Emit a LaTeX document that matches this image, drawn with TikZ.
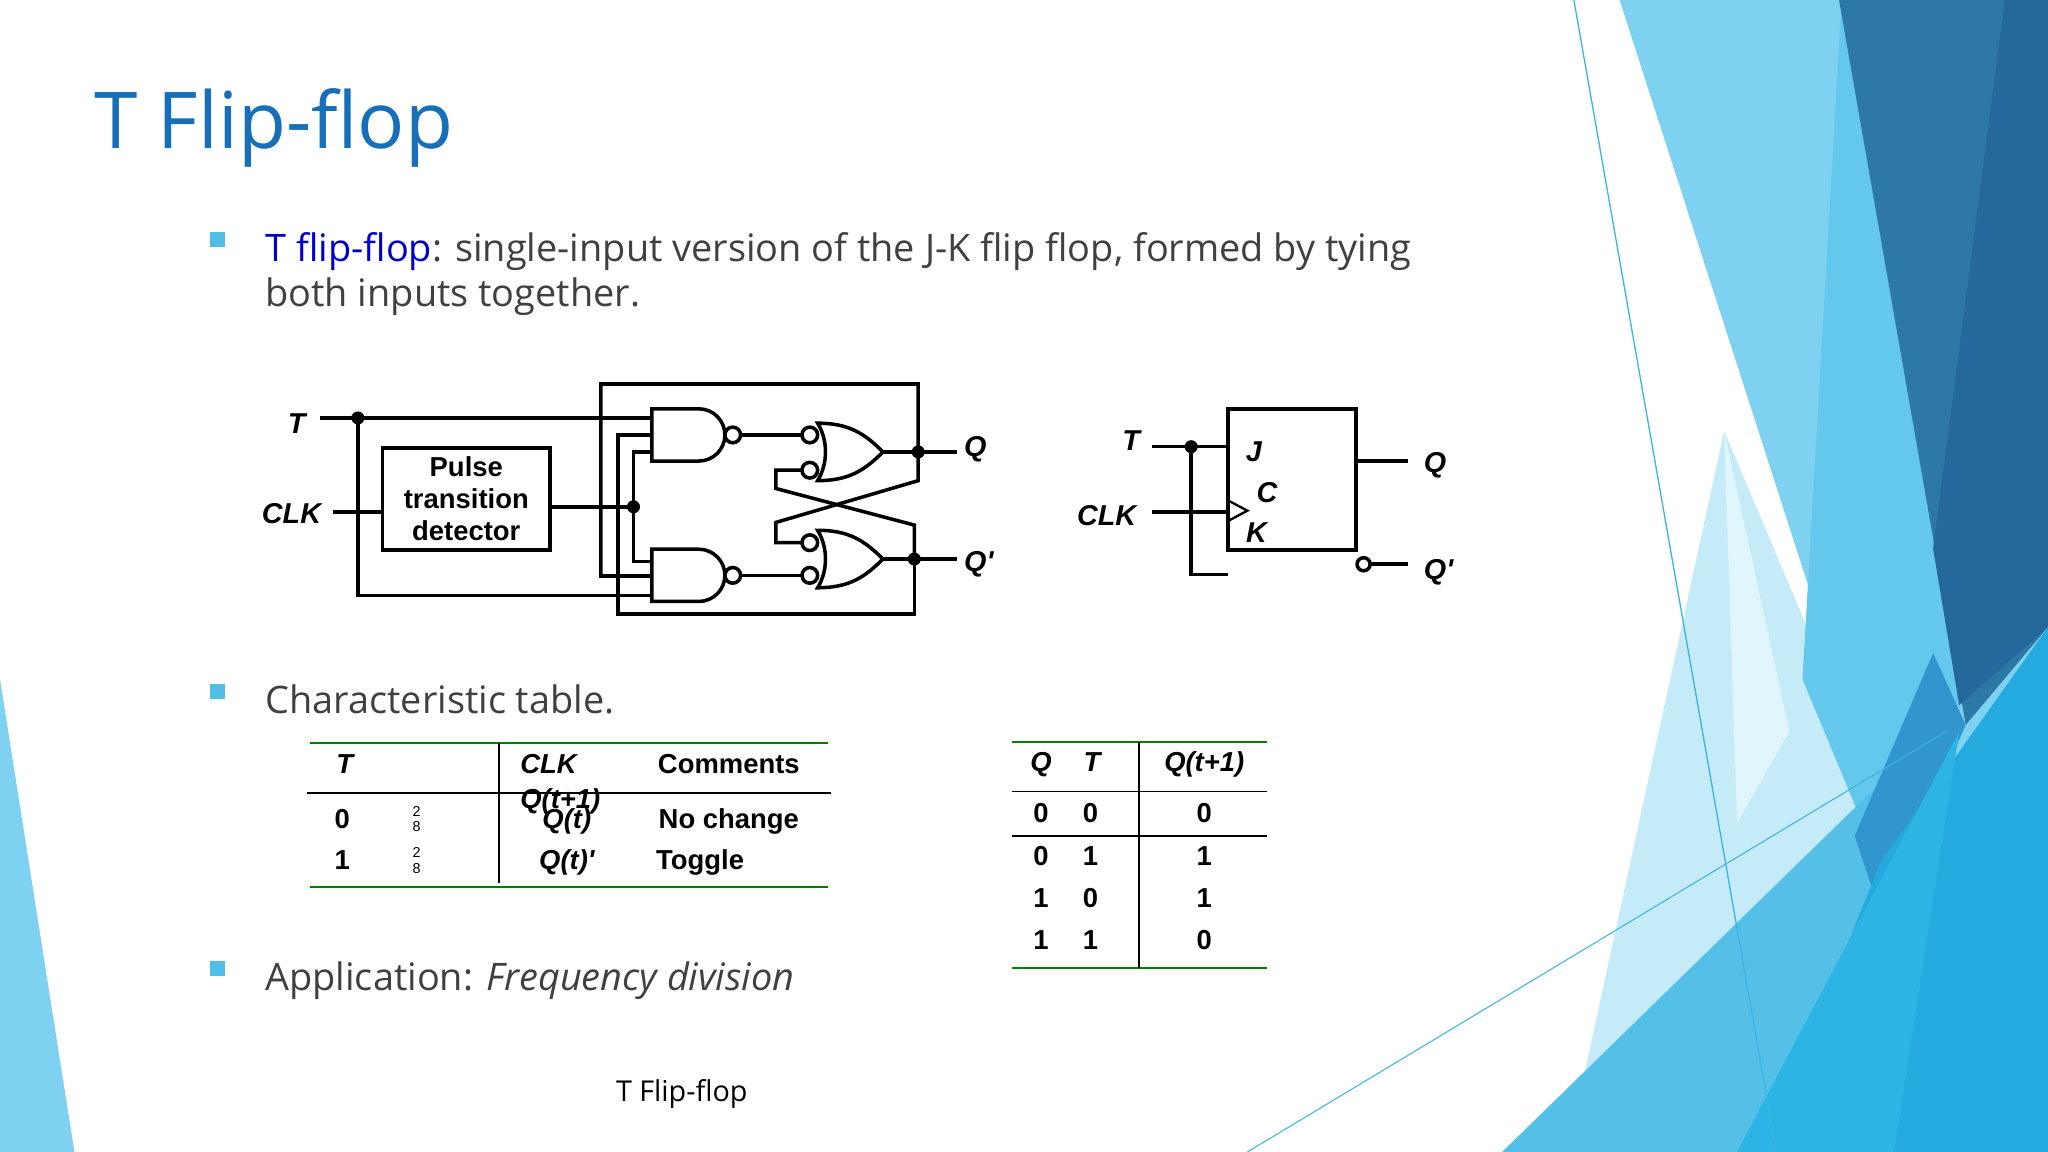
\documentclass[tikz,border=0pt]{standalone}
\usepackage{fontspec}
\setmainfont{Open Sans}
\newfontfamily\arial{Liberation Sans}
\begin{document}
\begin{tikzpicture}[x=1pt,y=-1pt,
  w/.style={line width=2.7pt,line join=miter},
  lab/.style={font=\arial\bfseries\itshape\fontsize{22}{24}\selectfont,inner sep=0pt},
  tb/.style={font=\arial\bfseries\fontsize{21}{23}\selectfont,inner sep=0pt,anchor=base},
  tbi/.style={font=\arial\bfseries\itshape\fontsize{21}{23}\selectfont,inner sep=0pt,anchor=base},
  sm/.style={font=\arial\fontsize{11}{11}\selectfont,inner sep=0pt},
  body/.style={font=\fontsize{29}{35}\selectfont,text=black!75,inner sep=0pt,anchor=base west},
  dot/.style={circle,fill=black,inner sep=0pt,minimum size=10pt},
  gl/.style={line width=2pt,draw=green!50!black},
  bl/.style={line width=1.2pt}]
\useasboundingbox (0,0) rectangle (1568,882);
% background decoration
\fill[color={rgb,255:red,126;green,209;blue,240}] (1240,0) -- (1568,0) -- (1568,882) -- (1340,882) -- (1430,590) -- cycle;
\fill[color={rgb,255:red,197;green,235;blue,248}] (1320,330) -- (1430,590) -- (1340,882) -- (1200,882) -- cycle;
\fill[color={rgb,255:red,225;green,245;blue,252}] (1320,330) -- (1370,560) -- (1330,630) -- cycle;
\fill[color={rgb,255:red,100;green,200;blue,236}] (1410,0) -- (1480,40) -- (1500,560) -- (1430,640) -- (1380,520) -- cycle;
\fill[color={rgb,255:red,46;green,120;blue,168}] (1408,0) -- (1568,0) -- (1568,480) -- (1505,555) -- cycle;
\fill[color={rgb,255:red,36;green,104;blue,156}] (1535,0) -- (1568,0) -- (1568,480) -- (1500,540) -- (1480,420) -- cycle;
\fill[color={rgb,255:red,84;green,192;blue,232}] (1150,882) -- (1480,560) -- (1500,760) -- (1460,882) -- cycle;
\fill[color={rgb,255:red,48;green,150;blue,205}] (1480,500) -- (1505,555) -- (1440,700) -- (1420,640) -- cycle;
\fill[color={rgb,255:red,36;green,170;blue,222}] (1568,480) -- (1568,882) -- (1350,882) -- (1440,660) -- cycle;
\fill[color={rgb,255:red,43;green,180;blue,228}] (1500,560) -- (1450,882) -- (1330,882) -- cycle;
\draw[color={rgb,255:red,60;green,180;blue,225},line width=1pt] (1205,0) -- (1360,882);
\draw[color={rgb,255:red,60;green,180;blue,225},line width=0.8pt] (955,882) -- (1490,560);
\fill[color={rgb,255:red,126;green,209;blue,240}] (0,520) -- (57,882) -- (0,882) -- cycle;
% title and text
\node[anchor=base west,inner sep=0pt,font=\fontsize{60}{70}\selectfont,text={rgb,255:red,23;green,110;blue,185}] (title) at (72,114) {T Flip-flop};
\fill[color={rgb,255:red,80;green,190;blue,232}] (161,178) rectangle (172,189);
\node[body] (b1) at (203,200) {\textcolor{blue!80!black}{T flip-flop}: single-input version of the J-K flip flop, formed by tying};
\node[body] (b1b) at (203,235) {both inputs together.};
\fill[color={rgb,255:red,80;green,190;blue,232}] (161,524) rectangle (172,535);
\node[body] (b2) at (203,546) {Characteristic table.};
\fill[color={rgb,255:red,80;green,190;blue,232}] (161,736) rectangle (172,747);
\node[body] (b3) at (203,758) {Application: \textit{Frequency division}};
\node[anchor=base,inner sep=0pt,font=\fontsize{22}{24}\selectfont] (foot) at (522,843) {T Flip-flop};
% ===== circuit =====
\node[lab,anchor=east] (T) at (234,324) {T};
\node[lab,anchor=east] (CLK) at (246,393) {CLK};
\node[draw,w,minimum width=128pt,minimum height=78pt,font=\arial\bfseries\fontsize{21}{24.5}\selectfont,align=center,inner sep=0pt] (ptd) at (357,382) {Pulse\\transition\\detector};
% AND gates
\draw[w] (499,313) -- (535,313) arc[start angle=-90,end angle=90,radius=20] -- (499,353) -- cycle;
\draw[w] (561,333) circle[radius=6];
\draw[w] (499,420.5) -- (535,420.5) arc[start angle=-90,end angle=90,radius=20] -- (499,460.5) -- cycle;
\draw[w] (561,440.5) circle[radius=6];
% OR gates
\draw[w] (626,324) .. controls (650,324) and (662,332) .. (676,346) .. controls (662,360) and (650,368) .. (626,368) .. controls (634,355) and (634,337) .. (626,324) -- cycle;
\draw[w] (620,333) circle[radius=6] (620,360) circle[radius=6];
\draw[w] (626,406) .. controls (650,406) and (662,414) .. (676,428) .. controls (662,442) and (650,450) .. (626,450) .. controls (634,437) and (634,419) .. (626,406) -- cycle;
\draw[w] (620,415.5) circle[radius=6] (620,440.5) circle[radius=6];
% wires
\coordinate (tdot) at (274,320);
\draw[w] (245,320) -- (499,320);
\draw[w] (tdot) -- (274,456) -- (499,456);
\draw[w] (255,392) -- (ptd.west|-0,392);
\draw[w] (ptd.east|-0,388) -- (485,388);
\draw[w] (499,346) -- (485,346) -- (485,430) -- (499,430);
\draw[w] (499,333) -- (473,333) -- (473,470) -- (700,470) -- (700,428);
\draw[w] (499,441) -- (460,441) -- (460,294) -- (703,294) -- (703,368) -- (594,400) -- (594,415.5) -- (614,415.5);
\draw[w] (567,333) -- (614,333);
\draw[w] (567,440.5) -- (614,440.5);
\draw[w] (614,360) -- (594,360) -- (594,374) -- (700,402) -- (700,428);
\draw[w] (676,346) -- (733,346);
\draw[w] (676,428) -- (733,428);
\node[dot] (d1) at (tdot) {};
\node[dot] (d2) at (485,388) {};
\node[dot] (d3) at (703,346) {};
\node[dot] (d4) at (700,428) {};
\node[lab,anchor=west] (Q) at (738,344) {Q};
\node[lab,anchor=west] (Qp) at (738,432) {Q'};
% ===== JK symbol =====
\node[draw,w,minimum width=98pt,minimum height=108pt,inner sep=0pt] (jk) at (989,367) {};
\node[lab,anchor=east] (T2) at (873,337) {T};
\node[lab,anchor=east] (CLK2) at (870,395) {CLK};
\draw[w] (882,342) -- (jk.west|-0,342);
\draw[w] (912,342) -- (912,440) -- (940,440);
\node[dot] (d5) at (912,342) {};
\draw[w] (882,392) -- (jk.west|-0,392);
\draw[line width=1.8pt] (940,383) -- (955,391) -- (940,399);
\node[lab] (J) at (960,346) {J};
\node[lab] (C) at (970,377) {C};
\node[lab] (K) at (962,408) {K};
\draw[w] (jk.east|-0,353) -- (1078,353);
\draw[w] (1044,432) circle[radius=5];
\draw[w] (1049,432) -- (1078,432);
\node[lab,anchor=west] (Q2) at (1090,356) {Q};
\node[lab,anchor=west] (Qp2) at (1090,438) {Q'};
% ===== left table =====
\draw[gl] (237,569) -- (634,569);
\draw[bl] (235,607) -- (636,607);
\draw[gl] (237,679) -- (634,679);
\draw[bl] (382,569) -- (382,676);
\node[tbi] (h1) at (264,592) {T};
\node[tbi] (h2) at (420,592) {CLK};
\node[tb] (h3) at (558,592) {Comments};
\node[tbi] (h4) at (429,619) {Q(t+1)};
\node[tb] (r11) at (262,634) {0};
\node[sm] (r12a) at (319,621) {2};
\node[sm] (r12b) at (319,633) {8};
\node[tbi] (r13) at (434,634) {Q(t)};
\node[tb] (r14) at (558,634) {No change};
\node[tb] (r21) at (262,666) {1};
\node[sm] (r22a) at (319,653) {2};
\node[sm] (r22b) at (319,665) {8};
\node[tbi] (r23) at (434,666) {Q(t)'};
\node[tb] (r24) at (536,666) {Toggle};
% ===== right table =====
\draw[gl] (775,568) -- (970,568);
\draw[bl] (775,606) -- (970,606);
\draw[bl] (775,640) -- (970,640);
\draw[gl] (775,741) -- (970,741);
\draw[bl] (872,568) -- (872,741);
\node[tbi] (q1) at (797,591) {Q};
\node[tbi] (q2) at (836,591) {T};
\node[tbi] (q3) at (922,591) {Q(t+1)};
\foreach \y/\a/\b/\c [count=\i] in {630/0/0/0,663/0/1/1,695/1/0/1,727/1/1/0}{
  \node[tb] (ra\i) at (797,\y) {\a};
  \node[tb] (rb\i) at (835,\y) {\b};
  \node[tb] (rc\i) at (922,\y) {\c};
}
\end{tikzpicture}
\end{document}
